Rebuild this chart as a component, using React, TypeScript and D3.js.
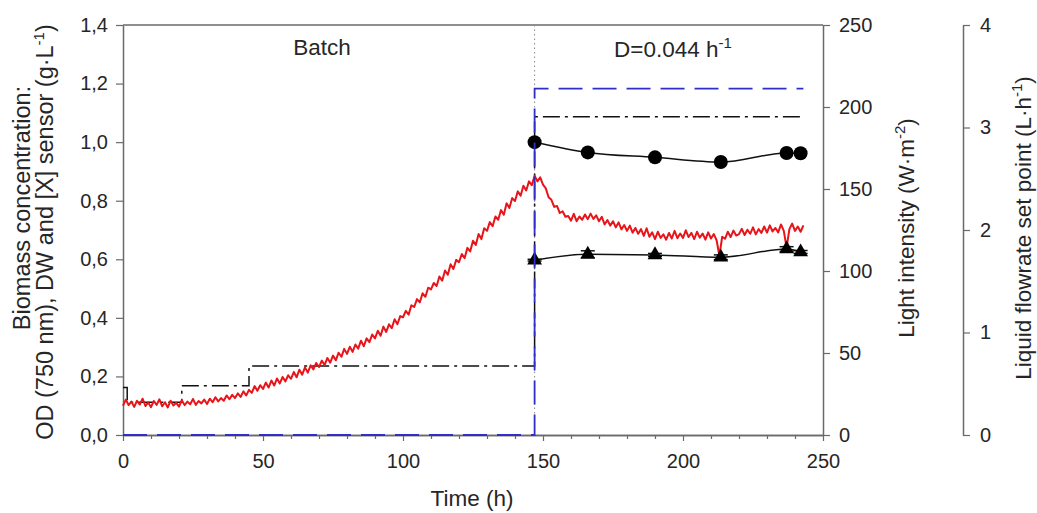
import React, { useRef, useEffect } from 'react'
import * as d3 from 'd3'

// [X] sensor reading, one value per hour starting at t = 0 h (g/L)
const sensorX = [
  0.100, 0.121, 0.102, 0.114, 0.096, 0.117, 0.104, 0.124, 0.099, 0.111,
  0.095, 0.116, 0.103, 0.122, 0.098, 0.112, 0.094, 0.117, 0.101, 0.110,
  0.097, 0.119, 0.102, 0.114, 0.105, 0.123, 0.103, 0.116, 0.108, 0.121,
  0.106, 0.124, 0.112, 0.129, 0.115, 0.126, 0.117, 0.135, 0.122, 0.137,
  0.126, 0.142, 0.130, 0.149, 0.135, 0.154, 0.144, 0.167, 0.151, 0.170,
  0.157, 0.179, 0.162, 0.186, 0.169, 0.193, 0.176, 0.198, 0.183, 0.204,
  0.192, 0.215, 0.197, 0.223, 0.206, 0.231, 0.213, 0.238, 0.224, 0.246,
  0.232, 0.254, 0.239, 0.263, 0.247, 0.271, 0.255, 0.281, 0.267, 0.294,
  0.277, 0.301, 0.284, 0.309, 0.295, 0.322, 0.303, 0.330, 0.317, 0.343,
  0.330, 0.356, 0.339, 0.370, 0.352, 0.378, 0.365, 0.395, 0.378, 0.406,
  0.402, 0.424, 0.411, 0.443, 0.437, 0.464, 0.453, 0.484, 0.472, 0.503,
  0.497, 0.519, 0.509, 0.541, 0.527, 0.562, 0.547, 0.583, 0.567, 0.598,
  0.590, 0.618, 0.604, 0.639, 0.627, 0.663, 0.649, 0.686, 0.669, 0.706,
  0.697, 0.727, 0.713, 0.746, 0.735, 0.768, 0.752, 0.791, 0.775, 0.809,
  0.799, 0.832, 0.817, 0.851, 0.835, 0.866, 0.853, 0.885, 0.866, 0.880,
  0.855, 0.842, 0.812, 0.803, 0.779, 0.782, 0.758, 0.764, 0.745, 0.748,
  0.732, 0.755, 0.730, 0.746, 0.735, 0.753, 0.737, 0.756, 0.738, 0.750,
  0.730, 0.745, 0.719, 0.734, 0.715, 0.730, 0.709, 0.726, 0.702, 0.717,
  0.697, 0.715, 0.691, 0.707, 0.687, 0.703, 0.680, 0.706, 0.677, 0.692,
  0.669, 0.694, 0.673, 0.685, 0.667, 0.690, 0.671, 0.697, 0.672, 0.688,
  0.673, 0.699, 0.676, 0.690, 0.669, 0.694, 0.674, 0.688, 0.667, 0.692,
  0.671, 0.686, 0.665, 0.612, 0.677, 0.670, 0.694, 0.676, 0.698, 0.681,
  0.686, 0.704, 0.683, 0.701, 0.687, 0.709, 0.685, 0.703, 0.690, 0.712,
  0.691, 0.716, 0.695, 0.707, 0.692, 0.719, 0.697, 0.640, 0.703, 0.722,
  0.697, 0.712, 0.694, 0.716
]

// dry weight samples (circles)
const dwTime = [147, 166, 190, 213.5, 237, 242]
const dwValue = [1.0, 0.965, 0.948, 0.932, 0.963, 0.962]

// OD 750 nm samples (triangles)
const odTime = [147, 166, 190, 213.5, 237, 242]
const odValue = [0.597, 0.617, 0.615, 0.607, 0.635, 0.625]
const odErr = [0.003, 0.012, 0.005, 0.008, 0.008, 0.005]

// light intensity steps (W/m2)
const lightTime = [0, 1.5, 21, 45, 147, 243]
const lightValue = [29, 20, 30, 42, 194, 194]

// liquid flowrate set point (L/h)
const flowTime = [0, 147, 243]
const flowValue = [0, 3.38, 3.38]

const xTicks = [0, 50, 100, 150, 200, 250]
const xMinorTicks = [10, 20, 30, 40, 60, 70, 80, 90, 110, 120, 130, 140, 160, 170, 180, 190, 210, 220, 230, 240]
const bioTicks = [0, 0.2, 0.4, 0.6, 0.8, 1.0, 1.2, 1.4]
const lightTicks = [0, 50, 100, 150, 200, 250]
const flowTicks = [0, 1, 2, 3, 4]

const FONT = '"Liberation Sans", Arial, sans-serif'
const AXIS = '#6a6a6a'
const TXT = '#262626'

const App = () => {
  const ref = useRef<SVGSVGElement>(null)

  useEffect(() => {
    if (!ref.current) return
    const svg = d3.select(ref.current)
    svg.selectAll('*').remove()

    const x = d3.scaleLinear().domain([0, 250]).range([123, 823])
    const yBio = d3.scaleLinear().domain([0, 1.4]).range([435, 25])
    const yLight = d3.scaleLinear().domain([0, 250]).range([435, 25])
    const yFlow = d3.scaleLinear().domain([0, 4]).range([435, 25])

    const comma = (d: any) => d3.format('.1f')(d).replace('.', ',')

    const styleAxis = (g: any) => {
      g.select('.domain').attr('stroke', AXIS).attr('stroke-width', 1.5)
      g.selectAll('.tick line').attr('stroke', AXIS).attr('stroke-width', 1.2)
      g.selectAll('.tick text').attr('fill', TXT).attr('font-size', 20).attr('font-family', FONT)
    }

    // frame top line
    svg.append('line')
      .attr('x1', x(0)).attr('x2', x(250))
      .attr('y1', yBio(1.4)).attr('y2', yBio(1.4))
      .attr('stroke', AXIS).attr('stroke-width', 1.5)

    // bottom axis
    svg.append('g')
      .attr('transform', `translate(0,${yBio(0)})`)
      .call(d3.axisBottom(x).tickValues(xMinorTicks).tickSize(4).tickFormat(() => '').tickSizeOuter(0))
      .call(styleAxis)
    svg.append('g')
      .attr('transform', `translate(0,${yBio(0)})`)
      .call(d3.axisBottom(x).tickValues(xTicks).tickSize(6).tickPadding(13).tickSizeOuter(0))
      .call(styleAxis)

    svg.append('g')
      .attr('transform', `translate(${x(0)},0)`)
      .call(d3.axisLeft(yBio).tickValues(bioTicks).tickSize(7).tickPadding(8).tickSizeOuter(0).tickFormat(comma))
      .call(styleAxis)

    svg.append('g')
      .attr('transform', `translate(${x(250)},0)`)
      .call(d3.axisRight(yLight).tickValues(lightTicks).tickSize(7).tickPadding(9).tickSizeOuter(0))
      .call(styleAxis)

    svg.append('g')
      .attr('transform', `translate(963,0)`)
      .call(d3.axisRight(yFlow).tickValues(flowTicks).tickSize(7).tickPadding(10).tickSizeOuter(0).tickFormat(d3.format('d')))
      .call(styleAxis)

    // dotted marker of the switch to continuous mode
    svg.append('line')
      .attr('x1', x(147)).attr('x2', x(147))
      .attr('y1', yBio(1.4)).attr('y2', yBio(0))
      .attr('stroke', '#888').attr('stroke-width', 1).attr('stroke-dasharray', '1.5 3')

    // light intensity
    const lightLine = d3.line<number>()
      .curve(d3.curveStepAfter)
      .x((d, i) => x(lightTime[i]))
      .y(d => yLight(d))
    svg.append('path')
      .attr('d', lightLine(lightValue))
      .attr('fill', 'none').attr('stroke', '#111').attr('stroke-width', 1.5)
      .attr('stroke-dasharray', '17 5 3 5')

    // sensor
    const sensorLine = d3.line<number>()
      .x((d, i) => x(i))
      .y(d => yBio(d))
    svg.append('path')
      .attr('d', sensorLine(sensorX))
      .attr('fill', 'none').attr('stroke', '#e8141a').attr('stroke-width', 2)
      .attr('stroke-linejoin', 'round')

    // DW
    const dwLine = d3.line<number>()
      .curve(d3.curveMonotoneX)
      .x((d, i) => x(dwTime[i]))
      .y(d => yBio(d))
    svg.append('path')
      .attr('d', dwLine(dwValue))
      .attr('fill', 'none').attr('stroke', '#111').attr('stroke-width', 1.5)
    svg.append('g').selectAll('circle')
      .data(dwValue)
      .join('circle')
      .attr('cx', (d, i) => x(dwTime[i]))
      .attr('cy', d => yBio(d))
      .attr('r', 7)
      .attr('fill', '#000')

    // OD
    const odLine = d3.line<number>()
      .curve(d3.curveMonotoneX)
      .x((d, i) => x(odTime[i]))
      .y(d => yBio(d))
    svg.append('path')
      .attr('d', odLine(odValue))
      .attr('fill', 'none').attr('stroke', '#111').attr('stroke-width', 1.5)
    const eb = svg.append('g').attr('stroke', '#111').attr('stroke-width', 1.5)
    odValue.forEach((v, i) => {
      const cx = x(odTime[i])
      const y1 = yBio(v - odErr[i])
      const y2 = yBio(v + odErr[i])
      eb.append('line').attr('x1', cx).attr('x2', cx).attr('y1', y1).attr('y2', y2)
      eb.append('line').attr('x1', cx - 7).attr('x2', cx + 7).attr('y1', y1).attr('y2', y1)
      eb.append('line').attr('x1', cx - 7).attr('x2', cx + 7).attr('y1', y2).attr('y2', y2)
    })
    const tri = d3.symbol().type(d3.symbolTriangle).size(95)
    svg.append('g').selectAll('path')
      .data(odValue)
      .join('path')
      .attr('d', tri())
      .attr('transform', (d, i) => `translate(${x(odTime[i])},${yBio(d)})`)
      .attr('fill', '#000')

    // flowrate set point
    const flowLine = d3.line<number>()
      .curve(d3.curveStepAfter)
      .x((d, i) => x(flowTime[i]))
      .y(d => yFlow(d))
    svg.append('path')
      .attr('d', flowLine(flowValue))
      .attr('fill', 'none').attr('stroke', '#2f2fc8').attr('stroke-width', 1.8)
      .attr('stroke-dasharray', '24 10')

    // labels
    const label = (g: any) => g.attr('font-family', FONT).attr('font-size', 22.5).attr('fill', TXT)

    svg.append('text').call(label)
      .attr('x', 322).attr('y', 55).attr('text-anchor', 'middle').text('Batch')

    const d = svg.append('text').call(label).attr('x', 614).attr('y', 57)
    d.append('tspan').text('D=0.044 h')
    d.append('tspan').attr('dy', -9).attr('font-size', 15).text('-1')

    svg.append('text').call(label)
      .attr('x', 472).attr('y', 506).attr('text-anchor', 'middle').text('Time (h)')

    svg.append('text').call(label).attr('font-size', 23.5)
      .attr('transform', 'translate(30,208) rotate(-90)').attr('text-anchor', 'middle')
      .text('Biomass concentration:')

    const l2 = svg.append('text').call(label).attr('font-size', 23.5)
      .attr('transform', 'translate(53,232) rotate(-90)').attr('text-anchor', 'middle')
    l2.append('tspan').text('OD (750 nm), DW and [X] sensor (g·L')
    l2.append('tspan').attr('dy', -9).attr('font-size', 15).text('-1')
    l2.append('tspan').attr('dy', 9).text(')')

    const l3 = svg.append('text').call(label)
      .attr('transform', 'translate(914,228) rotate(-90)').attr('text-anchor', 'middle')
    l3.append('tspan').text('Light intensity (W·m')
    l3.append('tspan').attr('dy', -9).attr('font-size', 15).text('-2')
    l3.append('tspan').attr('dy', 9).text(')')

    const l4 = svg.append('text').call(label)
      .attr('transform', 'translate(1031,228) rotate(-90)').attr('text-anchor', 'middle')
    l4.append('tspan').text('Liquid flowrate set point (L·h')
    l4.append('tspan').attr('dy', -9).attr('font-size', 15).text('-1')
    l4.append('tspan').attr('dy', 9).text(')')
  }, [])

  return (
    <svg
      ref={ref}
      width={1037}
      height={513}
      style={{ position: 'absolute', left: 0, top: 0, background: '#fff' }}
    />
  )
}

export default App
